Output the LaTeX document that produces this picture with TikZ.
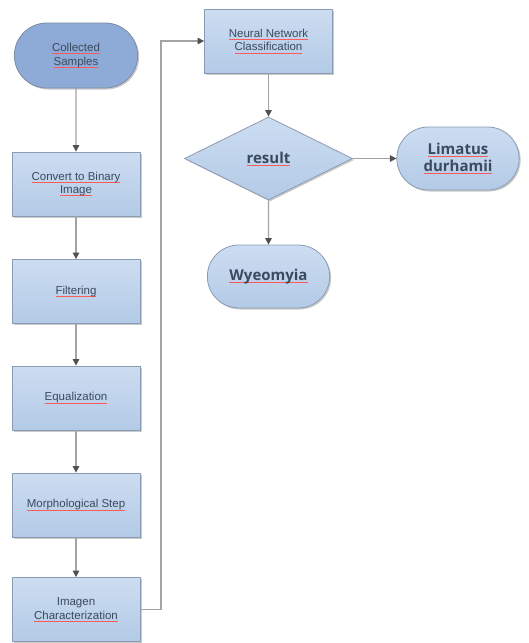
\documentclass[tikz,border=0pt]{standalone}
\usepackage{fontspec}
\setmainfont{Liberation Sans}
\newfontfamily\boldlab{Open Sans}
\usetikzlibrary{shapes.geometric,shapes.misc,shadows,arrows.meta}
\definecolor{txtc}{HTML}{3B4A5E}
\definecolor{edgec}{HTML}{8A9CB4}
\definecolor{linec}{HTML}{A3A3A3}
\definecolor{tipc}{HTML}{505050}
\definecolor{topc}{HTML}{CCDDF1}
\definecolor{botc}{HTML}{B3CAE6}
\definecolor{darkc}{HTML}{8EAAD6}
\newcommand\rul[1]{\begingroup\setbox0\hbox{#1}\rlap{\textcolor{red!65}{\rule[-2.2pt]{\wd0}{0.5pt}}}\box0\endgroup}
\tikzset{
  shad/.style={drop shadow={opacity=0.35,shadow xshift=1.5pt,shadow yshift=-1.5pt,fill=black!60}},
  procbox/.style={rectangle,draw=edgec,line width=0.8pt,top color=topc,bottom color=botc,
    minimum width=128pt,minimum height=64pt,align=center,font=\fontsize{11.5}{13.5}\selectfont,
    text=txtc,inner sep=2pt,shad},
  startnode/.style={rounded rectangle,draw=edgec!90!black,line width=0.8pt,fill=darkc,
    minimum width=130pt,minimum height=65pt,align=center,font=\fontsize{11.5}{13.5}\selectfont,
    text=txtc,shad},
  endnode/.style={rounded rectangle,draw=edgec,line width=0.8pt,top color=topc,bottom color=botc,
    minimum width=129pt,minimum height=63pt,align=center,font=\boldlab\bfseries\fontsize{15}{17}\selectfont,
    text=txtc,shad},
  decnode/.style={diamond,draw=edgec,line width=0.8pt,top color=topc,bottom color=botc,
    minimum width=168pt,minimum height=83pt,inner sep=0pt,aspect=2,
    font=\boldlab\bfseries\fontsize{15}{17}\selectfont,text=txtc,shad},
  conn/.style={draw=linec,line width=1.2pt,-{Triangle[length=6.5pt,width=6.5pt,fill=tipc,color=tipc]}}
}
\begin{document}
\begin{tikzpicture}[x=1pt,y=-1pt]
\useasboundingbox (0,0) rectangle (529,643);
\node[startnode] (cs) at (76,55.5) {\rul{Collected}\\\rul{Samples}};
\node[procbox] (cb) at (76,184) {\rul{Convert to Binary}\\\rul{Image}};
\node[procbox] (fi) at (76,291.5) {\rul{Filtering}};
\node[procbox] (eq) at (76,398) {\rul{Equalization}};
\node[procbox] (mo) at (76,505) {\rul{Morphological Step}};
\node[procbox] (im) at (76,609.5) {Imagen\\\rul{Characterization}};
\node[procbox] (nn) at (268.5,41) {\rul{Neural Network}\\\rul{Classification}};
\node[decnode] (re) at (268.5,158.5) {\rul{result}};
\node[endnode] (li) at (458,158.5) {\rul{Limatus}\\\rul{durhamii}};
\node[endnode] (wy) at (268.5,276.5) {\rul{Wyeomyia}};
\coordinate (bend) at (161,0);
\draw[conn] (cs) -- (cb);
\draw[conn] (cb) -- (fi);
\draw[conn] (fi) -- (eq);
\draw[conn] (eq) -- (mo);
\draw[conn] (mo) -- (im);
\draw[conn] (im.east) -- (im.east -| bend) -- (nn.west -| bend) -- (nn.west);
\draw[conn] (nn) -- (re);
\draw[conn] (re) -- (li);
\draw[conn] (re) -- (wy);
\end{tikzpicture}
\end{document}
